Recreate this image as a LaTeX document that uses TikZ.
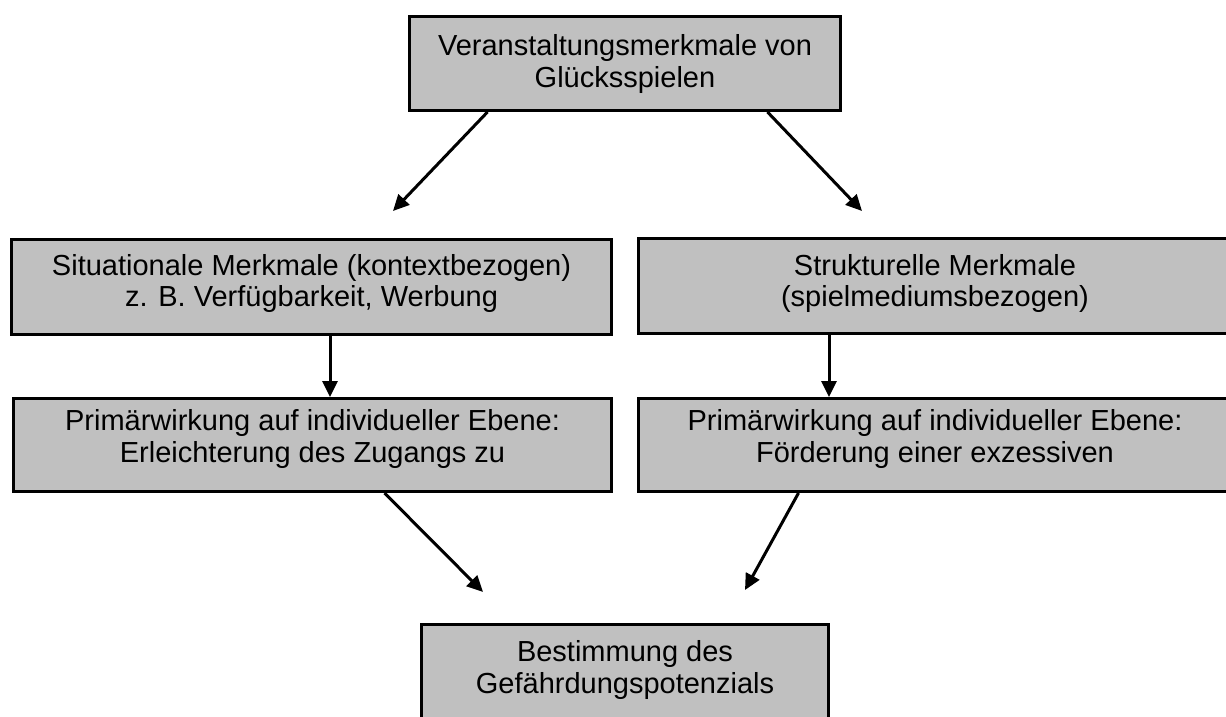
\documentclass[tikz,border=0pt]{standalone}
\usepackage{fontspec}
\setmainfont{Liberation Sans}
\usetikzlibrary{calc,arrows.meta}
\definecolor{boxgray}{RGB}{192,192,192}
\newcommand\boxfont{\fontsize{29}{32}\selectfont}

\begin{document}
\begin{tikzpicture}[x=1pt,y=1pt,
    box/.style={draw, line width=3pt, fill=boxgray, align=center, inner sep=0pt, font=\boxfont},
    arr/.style={line width=3pt, -{Triangle[length=16pt,width=15pt]}}]
    \clip (0,0) rectangle (1226,716);
    \node[box, minimum width=431pt, minimum height=94pt, text height=49pt, text depth=0pt] at (625,652.5) (ver) {Veranstaltungsmerkmale von\\Glücksspielen};
    \node[box, minimum width=600pt, minimum height=95pt, text height=40pt, text depth=0pt] at (311.5,429) (sit) {Situationale Merkmale (kontextbezogen)\\z. B. Verfügbarkeit, Werbung};
    \node[box, minimum width=593pt, minimum height=95pt, text height=42pt, text depth=0pt] at (935,430) (str) {Strukturelle Merkmale\\(spielmediumsbezogen)};
    \node[box, minimum width=598pt, minimum height=93pt, text height=34pt, text depth=0pt] at (312.5,271) (prim1) {Primärwirkung auf individueller Ebene:\\Erleichterung des Zugangs zu};
    \node[box, minimum width=593pt, minimum height=93pt, text height=34pt, text depth=0pt] at (935,271) (prim2) {Primärwirkung auf individueller Ebene:\\Förderung einer exzessiven};
    \node[box, minimum width=407pt, minimum height=145pt, text height=0pt, text depth=8pt] at (625,19) (best) {Bestimmung des\\Gefährdungspotenzials};
    \coordinate (tl) at (393,505);
    \coordinate (tr) at (862,505);
    \coordinate (bl) at (483,124);
    \coordinate (br) at (745,126);
    \draw[arr] ([xshift=79.5pt]ver.south west) -- (tl);
    \draw[arr] ([xshift=-74.5pt]ver.south east) -- (tr);
    \draw[arr] ([xshift=18.5pt]sit.south) -- ([xshift=18.5pt]sit.south |- prim1.north);
    \draw[arr] ([xshift=-106pt]str.south) -- ([xshift=-106pt]str.south |- prim2.north);
    \draw[arr] ([xshift=372.5pt]prim1.south west) -- (bl);
    \draw[arr] ([xshift=161.5pt]prim2.south west) -- (br);
\end{tikzpicture}
\end{document}
